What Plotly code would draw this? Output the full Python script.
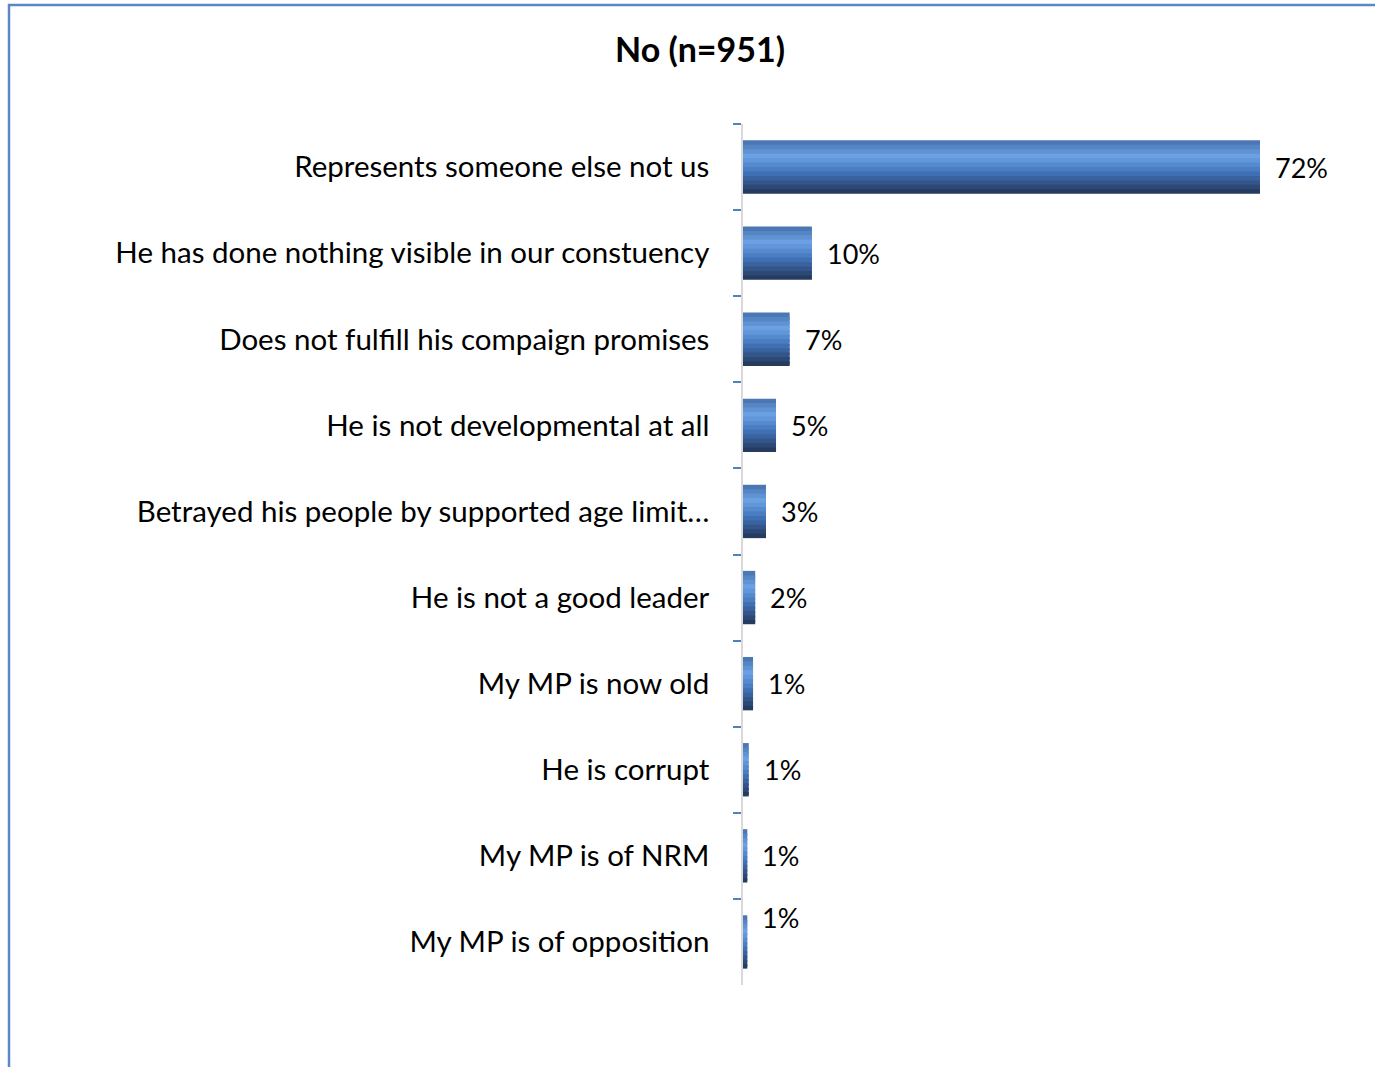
"""Horizontal bar chart: reasons for 'No' answers"""
import plotly.graph_objects as go

reasons = [
    'Represents someone else not us',
    'He has done nothing visible in our constuency',
    'Does not fulfill his compaign promises',
    'He is not developmental at all',
    'Betrayed his people by supported age limit…',
    'He is not a good leader',
    'My MP is now old',
    'He is corrupt',
    'My MP is of NRM',
    'My MP is of opposition',
]
shares = [72, 9.6, 6.5, 4.6, 3.2, 1.7, 1.4, 0.8, 0.6, 0.6]
title_text = 'No (n=951)'

W, H = 1375, 1067
AX_X, PLOT_R, PLOT_T, PLOT_B = 743, 1340, 124, 985
ML, MR, MT, MB = AX_X, W - PLOT_R, PLOT_T, H - PLOT_B
FONT = 'Lato, Open Sans, sans-serif'

# gradient stops for the "3D" bar look (top -> bottom)
stops = [(0.0, (70, 112, 172)), (0.3, (108, 162, 228)),
         (0.6, (66, 116, 186)), (1.0, (34, 52, 86))]


def grad(t):
    for (t0, c0), (t1, c1) in zip(stops, stops[1:]):
        if t <= t1:
            f = (t - t0) / (t1 - t0)
            return 'rgb(%d,%d,%d)' % tuple(round(a + (b - a) * f) for a, b in zip(c0, c1))
    return 'rgb(%d,%d,%d)' % stops[-1][1]


bar_w = 0.62
n_bands = 12
band = bar_w / n_bands

fig = go.Figure()
for i in range(n_bands):
    last = i == n_bands - 1
    fig.add_trace(go.Bar(
        y=reasons, x=shares, orientation='h',
        width=band * (1 if last else 1.6), offset=-bar_w / 2 + i * band,
        marker=dict(color=grad((i + 0.5) / n_bands), line=dict(width=0)),
        hoverinfo='skip' if i else None,
        hovertemplate='<b>%{y}</b><br>%{x}%<extra></extra>',
        showlegend=False,
    ))

annotations = []
for k, (r, v) in enumerate(zip(reasons, shares)):
    annotations.append(dict(
        x=v, y=r, xref='x', yref='y', text='%d%%' % round(v + 0.001),
        showarrow=False, xanchor='left', xshift=13,
        yshift=24 if k == len(reasons) - 1 else 0,
        font=dict(family=FONT, size=27, color='#000000'),
    ))

xmax = 72 / (1260 - AX_X) * (PLOT_R - AX_X)

# page border (left/top visible, right/bottom run off the page)
pw, ph = W - ML - MR, H - MT - MB
shapes = [dict(
    type='rect', xref='paper', yref='paper', layer='above',
    x0=(9 - ML) / pw, x1=(W + 20 - ML) / pw,
    y0=-(MB + 20) / ph, y1=1 + (MT - 5) / ph,
    line=dict(color='#5b87c5', width=2.5), fillcolor='rgba(0,0,0,0)',
)]

fig.update_layout(
    width=W, height=H,
    margin=dict(l=ML, r=MR, t=MT, b=MB),
    paper_bgcolor='white', plot_bgcolor='white',
    barmode='overlay',
    title=dict(text='<b>%s</b>' % title_text, x=700 / W, xanchor='center',
               y=1 - 50 / H, yanchor='middle',
               font=dict(family=FONT, size=34, color='#000000')),
    xaxis=dict(range=[0, xmax], visible=False, fixedrange=True),
    yaxis=dict(
        categoryorder='array', categoryarray=reasons, autorange='reversed',
        showline=True, linecolor='#d9d9d9', linewidth=1.5,
        ticks='outside', tickson='boundaries', ticklen=8, tickwidth=1.5,
        tickcolor='#4f81bd', ticklabelstandoff=26, showgrid=False,
        tickfont=dict(family=FONT, size=29.5, color='#000000'),
    ),
    annotations=annotations,
    shapes=shapes,
)

# drop the default 8px body margin so the figure sits at the page origin
fig.write_html('out.html', config={'displayModeBar': False},
               post_script="document.body.style.margin='0';")
